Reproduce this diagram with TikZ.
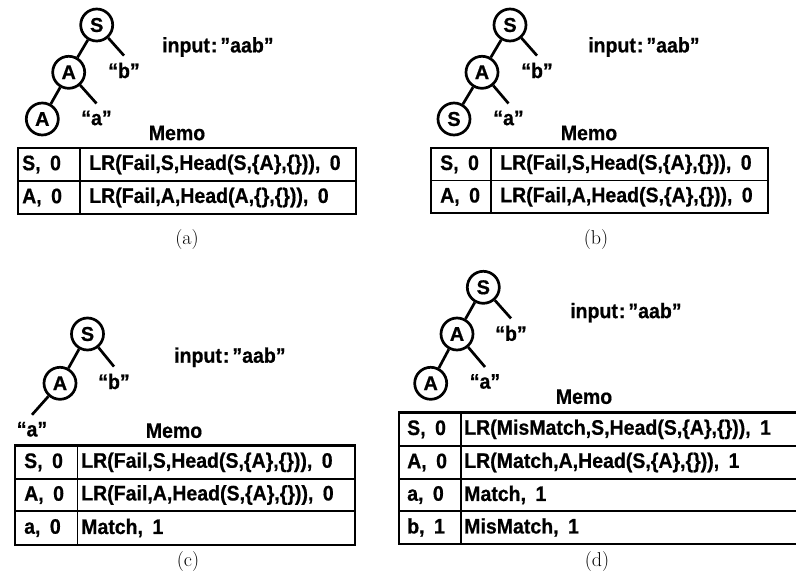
\documentclass[tikz,border=0pt]{standalone}
\usepackage{fontspec}
\newfontfamily\lib{Liberation Sans}[FakeStretch=0.93, BoldFeatures={FakeBold=0.6}]
\newfontfamily\libn{Liberation Sans}[BoldFeatures={FakeBold=0.6}]
\newcommand{\tabfnt}{\lib\bfseries\fontsize{21}{23}\selectfont}
\newcommand{\trfnt}{\libn\bfseries\fontsize{20}{22}\selectfont}
\newcommand{\capfnt}{\rmfamily\fontsize{20}{22}\selectfont}
\newcommand{\inp}{input\kern1pt:\kern3pt”aab”}
\newcommand{\gp}{\kern0.45em}
\tikzset{
  nd/.style={circle, draw, line width=2.7pt, minimum size=32pt, inner sep=0pt, font=\trfnt},
  lbl/.style={inner xsep=1pt, inner ysep=7pt, font=\tabfnt},
  edg/.style={line width=2.7pt},
  plain/.style={inner sep=0pt, font=\tabfnt},
  txt/.style={anchor=west, inner sep=0pt, font=\tabfnt},
  outerb/.style={line width=2.8pt},
  innerl/.style={line width=1.3pt},
  captxt/.style={inner sep=0pt, font=\capfnt}
}
\begin{document}
\begin{tikzpicture}[x=1pt,y=-1pt]
\useasboundingbox (0,0) rectangle (796,579);
\fill[white] (0,0) rectangle (796,579);
% ---------- (a)
\node[nd] (aS) at (96.7,25) {S};
\node[nd] (aA) at (68.7,72.3) {A};
\node[nd] (aA2) at (42.3,119) {A};
\node[lbl] (ab) at (124,70.5) {“b”};
\node[lbl] (aa) at (96.5,118) {“a”};
\draw[edg] (aS)--(aA) (aA)--(aA2) (aS)--(ab.north) (aA)--(aa.north);
\node[plain, anchor=west] (ain) at (162,47) {\inp};
\node[plain] (amemo) at (177,133) {Memo};
\draw[innerl] (80,148)--(80,214) (18,181)--(356,181);
\draw[outerb] (18,148) rectangle (356,214);
\node[txt] (a11) at (22,164.5) {S,\gp0};
\node[txt] (a12) at (89,164.5) {LR(Fail,S,Head(S,\{A\},\{\})),\gp0};
\node[txt] (a21) at (22,197.5) {A,\gp0};
\node[txt] (a22) at (89,197.5) {LR(Fail,A,Head(A,\{\},\{\})),\gp0};
\node[captxt] (acap) at (187,240) {(a)};
% ---------- (b)
\node[nd] (bS) at (510,25) {S};
\node[nd] (bA) at (482,72.3) {A};
\node[nd] (bS2) at (454,119) {S};
\node[lbl] (bb) at (537,70.5) {“b”};
\node[lbl] (ba) at (508.5,118) {“a”};
\draw[edg] (bS)--(bA) (bA)--(bS2) (bS)--(bb.north) (bA)--(ba.north);
\node[plain, anchor=west] (bin) at (588,47) {\inp};
\node[plain] (bmemo) at (589,133) {Memo};
\draw[innerl] (491,148)--(491,213) (431,180.5)--(768,180.5);
\draw[outerb] (431,148) rectangle (768,213);
\node[txt] (b11) at (440,164.3) {S,\gp0};
\node[txt] (b12) at (500,164.3) {LR(Fail,S,Head(S,\{A\},\{\})),\gp0};
\node[txt] (b21) at (440,196.8) {A,\gp0};
\node[txt] (b22) at (500,196.8) {LR(Fail,A,Head(S,\{A\},\{\})),\gp0};
\node[captxt] (bcap) at (596,240) {(b)};
% ---------- (c)
\node[nd] (cS) at (87.5,334) {S};
\node[nd] (cA) at (60,383.3) {A};
\node[lbl] (cb) at (114,381.5) {“b”};
\node[lbl] (ca) at (32,429.3) {“a”};
\draw[edg] (cS)--(cA) (cS)--(cb.north) (cA)--(ca.north);
\node[plain, anchor=west] (cin) at (174,357.3) {\inp};
\node[plain] (cmemo) at (174,430.7) {Memo};
\draw[innerl] (77.3,445.7)--(77.3,545) (15,479)--(355,479) (15,511)--(355,511);
\draw[outerb] (15,445.7) rectangle (355,545);
\node[txt] (c11) at (24,462.3) {S,\gp0};
\node[txt] (c12) at (81,462.3) {LR(Fail,S,Head(S,\{A\},\{\})),\gp0};
\node[txt] (c21) at (24,495) {A,\gp0};
\node[txt] (c22) at (81,495) {LR(Fail,A,Head(S,\{A\},\{\})),\gp0};
\node[txt] (c31) at (24,528) {a,\gp0};
\node[txt] (c32) at (81,528) {Match,\gp1};
\node[captxt] (ccap) at (188,562) {(c)};
% ---------- (d)
\node[nd] (dS) at (483.3,287.3) {S};
\node[nd] (dA) at (457,334) {A};
\node[nd] (dA2) at (430.7,383.3) {A};
\node[lbl] (db) at (511,333.3) {“b”};
\node[lbl] (da) at (485,381.5) {“a”};
\draw[edg] (dS)--(dA) (dA)--(dA2) (dS)--(db.north) (dA)--(da.north);
\node[plain, anchor=west] (din) at (570,312.7) {\inp};
\node[plain] (dmemo) at (584,396.7) {Memo};
\begin{scope}
\clip (0,0) rectangle (796,579);
\draw[innerl] (461,412.7)--(461,544) (399,446)--(800,446) (399,479)--(800,479) (399,511)--(800,511);
\draw[outerb] (399,412.7) rectangle (800,544);
\end{scope}
\node[txt] (d11) at (407,429.3) {S,\gp0};
\node[txt] (d12) at (464,429.3) {LR(MisMatch,S,Head(S,\{A\},\{\})),\gp1};
\node[txt] (d21) at (407,462.5) {A,\gp0};
\node[txt] (d22) at (464,462.5) {LR(Match,A,Head(S,\{A\},\{\})),\gp1};
\node[txt] (d31) at (407,495) {a,\gp0};
\node[txt] (d32) at (464,495) {Match,\gp1};
\node[txt] (d41) at (407,527.5) {b,\gp1};
\node[txt] (d42) at (464,527.5) {MisMatch,\gp1};
\node[captxt] (dcap) at (597,562) {(d)};
\end{tikzpicture}
\end{document}
